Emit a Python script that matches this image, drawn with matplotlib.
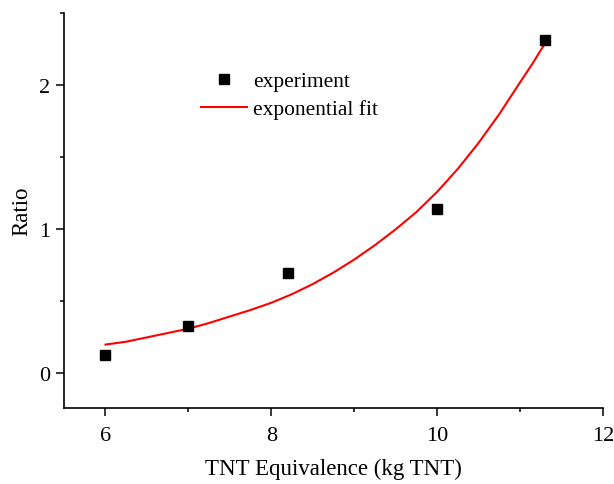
import matplotlib
matplotlib.use("Agg")
import matplotlib.pyplot as plt
from matplotlib.ticker import MultipleLocator

# experiment points
exp_x = [6.0, 7.0, 8.2, 10.0, 11.3]
exp_y = [0.13, 0.33, 0.70, 1.14, 2.31]

# exponential fit curve
fit_x = [6.0, 6.25, 6.5, 6.75, 7.0, 7.25, 7.5, 7.75, 8.0, 8.25, 8.5, 8.75,
         9.0, 9.25, 9.5, 9.75, 10.0, 10.25, 10.5, 10.75, 11.0, 11.15, 11.3]
fit_y = [0.20, 0.22, 0.25, 0.28, 0.31, 0.35, 0.395, 0.44, 0.49, 0.55, 0.62, 0.70,
         0.79, 0.89, 1.00, 1.12, 1.26, 1.42, 1.60, 1.80, 2.02, 2.15, 2.29]

plt.rcParams["font.family"] = ["Liberation Serif", "DejaVu Serif"]

fig = plt.figure(figsize=(6.14, 4.85), dpi=100)
ax = fig.add_axes([0.1042, 0.1567, 0.878, 0.8143])

ax.plot(exp_x, exp_y, "s", color="black", ms=6.5, label="experiment", zorder=3)
ax.plot(fit_x, fit_y, "-", color="red", lw=1.5, label="exponential fit")

ax.set_xlim(5.5, 12)
ax.set_ylim(-0.24, 2.5)
ax.xaxis.set_major_locator(MultipleLocator(2))
ax.xaxis.set_minor_locator(MultipleLocator(1))
ax.yaxis.set_major_locator(MultipleLocator(1))
ax.yaxis.set_minor_locator(MultipleLocator(0.5))
ax.tick_params(which="major", direction="out", length=6, width=1.1, labelsize=16)
ax.tick_params(axis="x", which="major", pad=7)
ax.tick_params(axis="y", which="major", pad=4)
ax.tick_params(which="minor", direction="out", length=3, width=1.1)
for s in ["top", "right"]:
    ax.spines[s].set_visible(False)
for s in ["left", "bottom"]:
    ax.spines[s].set_linewidth(1.2)

ax.set_xlabel("TNT Equivalence (kg TNT)", fontsize=16.5, labelpad=9)
ax.set_ylabel("Ratio", fontsize=16.5, labelpad=5)

ax.legend(loc="upper left", bbox_to_anchor=(0.238, 0.875), frameon=False,
          fontsize=15.5, handlelength=2.14, handletextpad=0.28, labelspacing=0.38,
          borderaxespad=0)

fig.savefig("out.png", dpi=100)
